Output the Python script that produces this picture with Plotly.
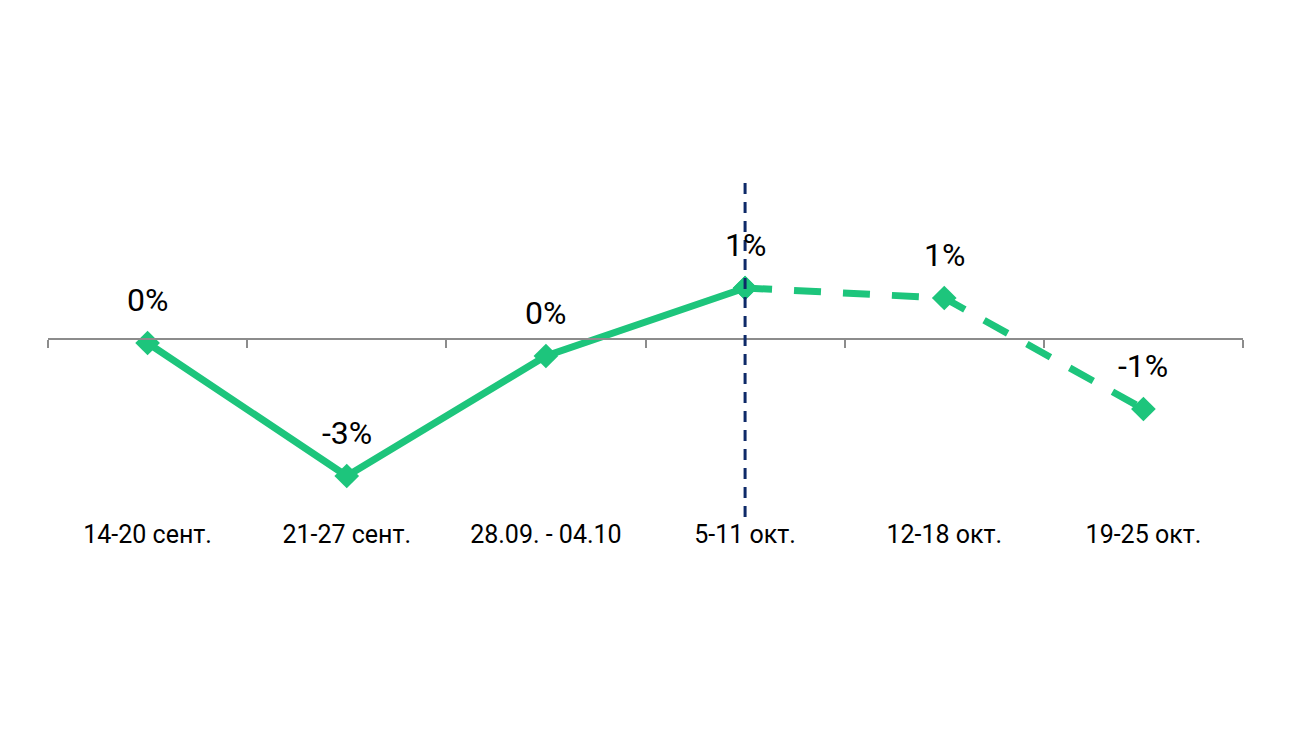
import plotly.graph_objects as go

categories = ["14-20 сент.", "21-27 сент.", "28.09. - 04.10", "5-11 окт.", "12-18 окт.", "19-25 окт."]
values = [-0.08, -2.74, -0.34, 1.02, 0.82, -1.40]
labels = ["0%", "-3%", "0%", "1%", "1%", "-1%"]
split_index = 3  # last actual week; after it the forecast (dashed)

GREEN = "#1DC57C"
NAVY = "#0E2A68"

idx = list(range(len(categories)))

fig = go.Figure()

# solid part
fig.add_trace(go.Scatter(
    x=idx[:split_index + 1], y=values[:split_index + 1],
    mode="lines+markers",
    line=dict(color=GREEN, width=7),
    marker=dict(symbol="diamond", size=19, color=GREEN),
    hoverinfo="skip", showlegend=False,
))
# dashed forecast part
fig.add_trace(go.Scatter(
    x=idx[split_index:], y=values[split_index:],
    mode="lines+markers",
    line=dict(color=GREEN, width=7, dash="27px,22px"),
    marker=dict(symbol="diamond", size=19, color=GREEN),
    hoverinfo="skip", showlegend=False,
))
# invisible trace for the zero-line axis
fig.add_trace(go.Scatter(
    x=idx, y=[0] * len(idx), xaxis="x2", mode="markers",
    marker=dict(opacity=0), hoverinfo="skip", showlegend=False,
))

for i, (v, t) in enumerate(zip(values, labels)):
    fig.add_annotation(x=i, y=v, text=t, showarrow=False, yshift=43,
                       font=dict(size=32, color="#000000", family="Roboto"))

top_px, bottom_px, zero_px, px_per_unit = 175, 509, 331, 50
ymax = (zero_px - top_px) / px_per_unit
ymin = -(bottom_px - zero_px) / px_per_unit
zero_pos = (bottom_px - zero_px) / (bottom_px - top_px)

# vertical dashed separator
fig.add_shape(type="line", xref="x", yref="y",
              x0=split_index, x1=split_index, y0=ymax, y1=-(530 - zero_px) / px_per_unit,
              line=dict(color=NAVY, width=3, dash="11px,8px"), layer="above")

fig.update_layout(
    width=1300, height=731,
    margin=dict(l=40, r=65, t=top_px, b=731 - bottom_px),
    paper_bgcolor="white", plot_bgcolor="white",
    font=dict(family="Roboto", color="#000000"),
    xaxis=dict(
        range=[-0.5, len(categories) - 0.5],
        tickmode="array", tickvals=idx, ticktext=categories,
        showline=False, showgrid=False, zeroline=False, ticks="",
        tickfont=dict(size=25, color="#000000"),
    ),
    xaxis2=dict(
        overlaying="x", anchor="free", position=zero_pos,
        range=[-0.5, len(categories) - 0.5],
        tickmode="array", tickvals=[i - 0.5 for i in range(len(categories) + 1)],
        showticklabels=False, ticks="outside", ticklen=8, tickwidth=2,
        tickcolor="#8C8C8C", showline=True, linecolor="#8C8C8C", linewidth=2,
        showgrid=False, zeroline=False,
    ),
    yaxis=dict(range=[ymin, ymax], visible=False, showgrid=False, zeroline=False),
)

fig.write_html("out.html")
